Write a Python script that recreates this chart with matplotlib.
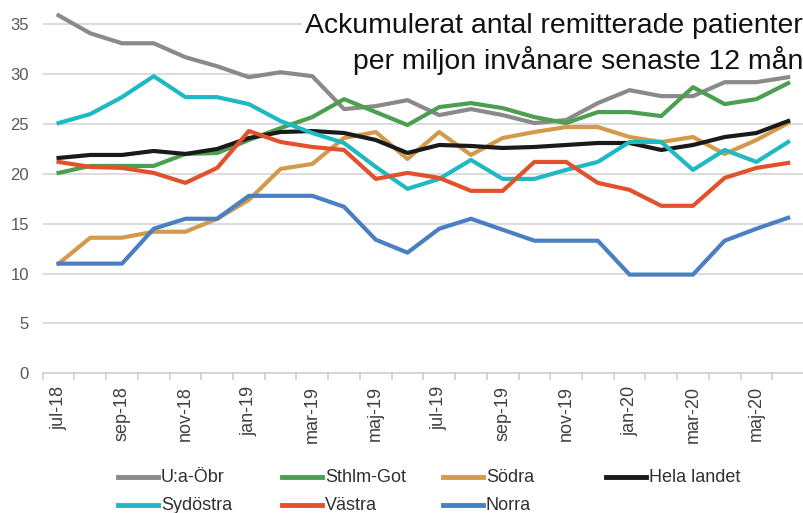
import numpy as np
import matplotlib
matplotlib.use('Agg')
import matplotlib.pyplot as plt
from matplotlib.lines import Line2D

plt.rcParams['font.family'] = ['Liberation Sans', 'DejaVu Sans']

# Data
months = ['jul-18', 'aug-18', 'sep-18', 'okt-18', 'nov-18', 'dec-18',
          'jan-19', 'feb-19', 'mar-19', 'apr-19', 'maj-19', 'jun-19',
          'jul-19', 'aug-19', 'sep-19', 'okt-19', 'nov-19', 'dec-19',
          'jan-20', 'feb-20', 'mar-20', 'apr-20', 'maj-20', 'jun-20']

ua_obr = [35.9, 34.1, 33.1, 33.1, 31.7, 30.8, 29.7, 30.2, 29.8, 26.5, 26.8, 27.4,
          25.9, 26.5, 25.9, 25.1, 25.4, 27.1, 28.4, 27.8, 27.8, 29.2, 29.2, 29.7]
sthlm_got = [20.1, 20.8, 20.8, 20.8, 22.0, 22.1, 23.4, 24.6, 25.7, 27.5, 26.2, 24.9,
             26.7, 27.1, 26.6, 25.7, 25.1, 26.2, 26.2, 25.8, 28.7, 27.0, 27.5, 29.1]
sodra = [11.0, 13.6, 13.6, 14.2, 14.2, 15.5, 17.4, 20.5, 21.0, 23.6, 24.2, 21.5,
         24.2, 21.9, 23.6, 24.2, 24.7, 24.7, 23.7, 23.2, 23.7, 22.0, 23.4, 25.1]
hela = [21.6, 21.9, 21.9, 22.3, 22.0, 22.5, 23.6, 24.2, 24.3, 24.1, 23.4, 22.1,
        22.9, 22.8, 22.6, 22.7, 22.9, 23.1, 23.1, 22.4, 22.9, 23.7, 24.1, 25.3]
sydostra = [25.1, 26.0, 27.7, 29.8, 27.7, 27.7, 27.0, 25.3, 24.1, 23.1, 20.7, 18.5,
            19.5, 21.4, 19.5, 19.5, 20.4, 21.2, 23.2, 23.2, 20.4, 22.4, 21.2, 23.2]
vastra = [21.2, 20.7, 20.6, 20.1, 19.1, 20.6, 24.3, 23.2, 22.7, 22.4, 19.5, 20.1,
          19.6, 18.3, 18.3, 21.2, 21.2, 19.1, 18.4, 16.8, 16.8, 19.6, 20.6, 21.1]
norra = [11.0, 11.0, 11.0, 14.5, 15.5, 15.5, 17.8, 17.8, 17.8, 16.7, 13.4, 12.1,
         14.5, 15.5, 14.4, 13.3, 13.3, 13.3, 9.9, 9.9, 9.9, 13.3, 14.5, 15.6]

names = ['U:a-Öbr', 'Sthlm-Got', 'Södra', 'Hela landet', 'Sydöstra', 'Västra', 'Norra']
series = [ua_obr, sthlm_got, sodra, hela, sydostra, vastra, norra]
colors = ['#8a8a8a', '#4c9f50', '#d39a4c', '#1a1a1a', '#1fb9c4', '#e2512c', '#4a7fc1']

W, H = 804, 513
fig = plt.figure(figsize=(W / 100, H / 100), dpi=100)
ax = fig.add_axes([42.7 / W, (H - 373.3) / H, 1 - 42.7 / W, 373.3 / H])

x = np.arange(len(months))
for vals, c, n in zip(series, colors, names):
    ax.plot(x, vals, color=c, lw=3.0, label=n, zorder=3)

ax.set_xlim(-0.5, -0.5 + (W - 42.7) / 32.3)
ax.set_ylim(0, 373.3 / 9.97)
ax.set_yticks(np.arange(0, 36, 5))
ax.grid(axis='y', color='#d9d9d9', lw=1.3, zorder=0.5)
ax.set_axisbelow(True)

ax.set_xticks(x)
ax.set_xticklabels([m if i % 2 == 0 else '' for i, m in enumerate(months)],
                   rotation=90, fontsize=13, color='#404040')
ax.set_xticks(np.arange(len(months) + 1) - 0.5, minor=True)
ax.tick_params(axis='x', which='major', length=0, pad=9)
ax.tick_params(axis='x', which='minor', length=5, color='#d0d0d0', width=1.2)
ax.tick_params(axis='y', length=0, pad=10, labelsize=12, labelcolor='#595959')

for s in ['left', 'right', 'top']:
    ax.spines[s].set_visible(False)
ax.spines['bottom'].set_color('#d0d0d0')
ax.spines['bottom'].set_linewidth(1.2)

# Title: white box hides the grid but stays under the lines
ax.text(1 - 1 / W, 1 - 13 / H,
        'Ackumulerat antal remitterade patienter\nper miljon invånare senaste 12 mån',
        transform=fig.transFigure, ha='right', va='top', fontsize=20.4,
        linespacing=1.3, color='#111111', zorder=2, clip_on=False,
        bbox=dict(facecolor='white', edgecolor='none', pad=2))

# Legend, 4 columns x 2 rows
col_x = [118, 282, 443, 606]
row_y = [477, 505]
for k, (n, c) in enumerate(zip(names, colors)):
    r, cidx = divmod(k, 4)
    x0, y0 = col_x[cidx], row_y[r]
    fig.add_artist(Line2D([x0 / W, (x0 + 40) / W], [1 - y0 / H, 1 - y0 / H],
                          color=c, lw=3.5, transform=fig.transFigure))
    fig.text((x0 + 43) / W, 1 - y0 / H, n, ha='left', va='center',
             fontsize=13, color='#303030')

fig.savefig('out.png', dpi=100)
